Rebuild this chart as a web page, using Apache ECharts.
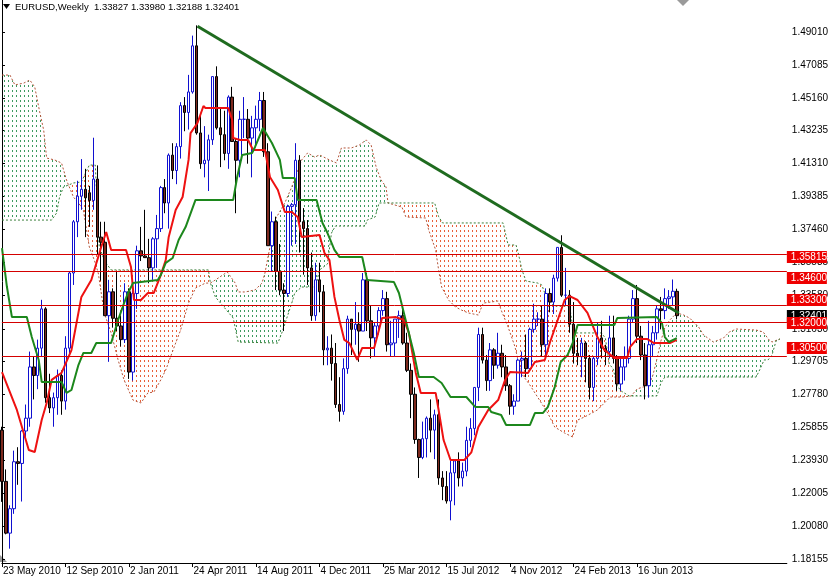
<!DOCTYPE html>
<html><head><meta charset="utf-8">
<script src="https://cdn.jsdelivr.net/npm/echarts@6/dist/echarts.min.js"></script>
<style>html,body{margin:0;padding:0;background:#fff;overflow:hidden;}#c{width:831px;height:580px;}</style>
</head><body><div id="c"></div>
<script>
// ---- tick labels ----
const dateLabels = ['23 May 2010','12 Sep 2010','2 Jan 2011','24 Apr 2011','14 Aug 2011','4 Dec 2011','25 Mar 2012','15 Jul 2012','4 Nov 2012','24 Feb 2013','16 Jun 2013'];
const dateLabelWeeks = [0,16,32,48,64,80,96,112,128,144,160];
const priceTicks = [1.49010,1.47085,1.45160,1.43235,1.41310,1.39385,1.37460,1.35535,1.33580,1.31630,1.29705,1.27780,1.25855,1.23930,1.22005,1.20080,1.18155];
const title = 'EURUSD,Weekly  1.33827 1.33980 1.32188 1.32401';

// ---- weekly candles [open, high, low, close], week 0 = 23 May 2010 ----
const weeklyOHLC = [
[1.2570,1.2590,1.2150,1.2270],[1.2270,1.2340,1.1960,1.1967],[1.1967,1.2130,1.1876,1.2110],[1.2110,1.2450,1.2080,1.2385],
[1.2385,1.2470,1.2250,1.2375],[1.2375,1.2570,1.2152,1.2565],[1.2565,1.2720,1.2510,1.2640],[1.2640,1.3030,1.2590,1.2940],
[1.2940,1.3000,1.2750,1.2890],[1.2890,1.3100,1.2810,1.3050],[1.3050,1.3333,1.3000,1.3280],[1.3280,1.3290,1.2730,1.2760],
[1.2760,1.2900,1.2670,1.2700],[1.2700,1.2790,1.2590,1.2760],[1.2760,1.2925,1.2660,1.2890],[1.2890,1.2920,1.2660,1.2740],
[1.2740,1.3120,1.2690,1.3050],[1.3050,1.3500,1.3000,1.3490],[1.3490,1.3800,1.3420,1.3790],[1.3790,1.4030,1.3700,1.3940],
[1.3940,1.4157,1.3860,1.3980],[1.3980,1.4100,1.3700,1.3930],[1.3960,1.4000,1.3760,1.3915],[1.3915,1.4282,1.3860,1.4040],
[1.4040,1.4120,1.3600,1.3700],[1.3700,1.3790,1.3445,1.3670],[1.3670,1.3790,1.3240,1.3240],[1.3240,1.3450,1.2970,1.3380],
[1.3380,1.3400,1.3170,1.3225],[1.3225,1.3500,1.3150,1.3180],[1.3180,1.3240,1.3060,1.3100],[1.3100,1.3430,1.3080,1.3380],
[1.3380,1.3400,1.2870,1.2910],[1.2910,1.3420,1.2860,1.3370],[1.3370,1.3650,1.3280,1.3620],[1.3620,1.3760,1.3560,1.3590],
[1.3590,1.3860,1.3580,1.3580],[1.3580,1.3690,1.3430,1.3520],[1.3520,1.3700,1.3450,1.3690],[1.3690,1.3830,1.3520,1.3750],
[1.3750,1.4000,1.3730,1.3990],[1.3990,1.4040,1.3840,1.3900],[1.3900,1.4190,1.3750,1.4180],[1.4180,1.4250,1.4040,1.4090],
[1.4090,1.4250,1.4010,1.4230],[1.4230,1.4490,1.4160,1.4470],[1.4470,1.4520,1.4320,1.4430],[1.4430,1.4650,1.4330,1.4550],
[1.4550,1.4880,1.4540,1.4820],[1.4820,1.4940,1.4300,1.4310],[1.4310,1.4420,1.4100,1.4130],[1.4130,1.4350,1.4050,1.4150],
[1.4150,1.4300,1.3970,1.4270],[1.4270,1.4640,1.4240,1.4640],[1.4640,1.4700,1.4330,1.4340],[1.4340,1.4450,1.4110,1.4300],
[1.4300,1.4440,1.4150,1.4190],[1.4190,1.4530,1.4100,1.4520],[1.4520,1.4580,1.4260,1.4260],[1.4260,1.4280,1.3840,1.4150],
[1.4150,1.4440,1.4050,1.4390],[1.4390,1.4520,1.4280,1.4390],[1.4390,1.4450,1.4130,1.4280],[1.4280,1.4410,1.4050,1.4340],
[1.4340,1.4470,1.4230,1.4390],[1.4390,1.4550,1.4320,1.4500],[1.4500,1.4550,1.4170,1.4200],[1.4200,1.4250,1.3650,1.3650],
[1.3650,1.3850,1.3500,1.3790],[1.3790,1.3820,1.3390,1.3500],[1.3500,1.3660,1.3360,1.3390],[1.3390,1.3430,1.3150,1.3370],
[1.3370,1.3890,1.3350,1.3880],[1.3880,1.3900,1.3650,1.3890],[1.3890,1.4250,1.3660,1.4150],[1.4150,1.4180,1.3610,1.3790],
[1.3790,1.3870,1.3480,1.3750],[1.3750,1.3800,1.3420,1.3520],[1.3520,1.3610,1.3210,1.3240],[1.3240,1.3550,1.3210,1.3450],
[1.3450,1.3550,1.3260,1.3380],[1.3380,1.3420,1.2950,1.3040],[1.3040,1.3120,1.2950,1.3050],[1.3050,1.3130,1.2860,1.2960],
[1.2960,1.3080,1.2700,1.2720],[1.2720,1.2880,1.2620,1.2680],[1.2680,1.2990,1.2660,1.2930],[1.2930,1.3240,1.2900,1.3220],
[1.3220,1.3220,1.3010,1.3160],[1.3160,1.3320,1.3070,1.3190],[1.3190,1.3260,1.2970,1.3150],[1.3150,1.3490,1.3150,1.3450],
[1.3450,1.3490,1.3150,1.3210],[1.3210,1.3300,1.2990,1.3110],[1.3110,1.3200,1.3000,1.3180],[1.3180,1.3290,1.3130,1.3270],
[1.3270,1.3390,1.3240,1.3340],[1.3340,1.3380,1.3030,1.3070],[1.3070,1.3210,1.3000,1.3080],[1.3080,1.3220,1.3000,1.3220],
[1.3220,1.3270,1.3110,1.3240],[1.3240,1.3280,1.3070,1.3080],[1.3080,1.3140,1.2910,1.2920],[1.2920,1.2960,1.2640,1.2780],
[1.2780,1.2820,1.2490,1.2515],[1.2515,1.2520,1.2290,1.2410],[1.2410,1.2620,1.2400,1.2520],[1.2520,1.2650,1.2410,1.2640],
[1.2640,1.2750,1.2440,1.2570],[1.2570,1.2690,1.2400,1.2660],[1.2660,1.2750,1.2250,1.2290],[1.2290,1.2330,1.2160,1.2240],
[1.2240,1.2330,1.2140,1.2155],[1.2155,1.2390,1.2042,1.2320],[1.2320,1.2400,1.2130,1.2390],[1.2390,1.2440,1.2240,1.2290],
[1.2290,1.2380,1.2240,1.2330],[1.2330,1.2590,1.2300,1.2510],[1.2510,1.2640,1.2470,1.2580],[1.2580,1.2820,1.2540,1.2820],
[1.2820,1.3170,1.2740,1.3130],[1.3130,1.3170,1.2960,1.2980],[1.2980,1.3010,1.2800,1.2860],[1.2860,1.3080,1.2800,1.3040],
[1.3040,1.3050,1.2870,1.2950],[1.2950,1.3140,1.2930,1.3020],[1.3020,1.3070,1.2880,1.2940],[1.2940,1.3010,1.2800,1.2830],
[1.2830,1.2840,1.2660,1.2710],[1.2710,1.2780,1.2660,1.2740],[1.2740,1.2990,1.2740,1.2980],[1.2980,1.3030,1.2880,1.2990],
[1.2990,1.3130,1.2880,1.2930],[1.2930,1.3170,1.2920,1.3160],[1.3160,1.3310,1.3140,1.3220],[1.3220,1.3260,1.3180,1.3220],
[1.3220,1.3300,1.3000,1.3070],[1.3070,1.3400,1.3000,1.3370],[1.3370,1.3400,1.3260,1.3320],[1.3320,1.3480,1.3250,1.3460],
[1.3460,1.3640,1.3440,1.3640],[1.3640,1.3711,1.3350,1.3360],[1.3360,1.3520,1.3300,1.3360],[1.3360,1.3390,1.3140,1.3190],
[1.3190,1.3320,1.2960,1.3020],[1.3020,1.3110,1.2950,1.3000],[1.3000,1.3110,1.2880,1.3080],[1.3080,1.3090,1.2850,1.2990],
[1.2990,1.3010,1.2750,1.2820],[1.2820,1.3000,1.2740,1.2990],[1.2990,1.3200,1.2950,1.3110],[1.3110,1.3210,1.2990,1.3050],
[1.3050,1.3070,1.2950,1.3030],[1.3030,1.3240,1.2990,1.3110],[1.3110,1.3240,1.2960,1.2990],[1.2990,1.3010,1.2800,1.2840],
[1.2840,1.2990,1.2800,1.2940],[1.2940,1.3060,1.2860,1.2990],[1.2990,1.3240,1.2960,1.3220],[1.3220,1.3390,1.3200,1.3340],
[1.3340,1.3420,1.3080,1.3120],[1.3120,1.3180,1.2980,1.3010],[1.3010,1.3080,1.2750,1.2830],[1.2830,1.3210,1.2760,1.3070],
[1.3070,1.3180,1.3000,1.3140],[1.3140,1.3300,1.3100,1.3280],[1.3280,1.3350,1.3160,1.3270],[1.3270,1.3400,1.3220,1.3340],
[1.3340,1.3390,1.3280,1.3350],[1.3350,1.3452,1.3300,1.3383],[1.33827,1.33980,1.32188,1.32401]
];

// ---- Ichimoku lines: [week, price] ----
const tenkan = [[0,1.2910],[3.75,1.2688],[6.75,1.2454],[8.25,1.2442],[10,1.2629],[11.25,1.2729],[12.5,1.2864],[15,1.2905],[17.5,1.3039],[20,1.3350],[22.5,1.3449],[25,1.3642],[26.25,1.3730],[27.5,1.3625],[31.25,1.3625],[32.5,1.3525],[33.25,1.3332],[35,1.3332],[36.75,1.3373],[38.25,1.3373],[40,1.3478],[41.25,1.3566],[42,1.3701],[43.75,1.3859],[45.5,1.3935],[47,1.4152],[47.5,1.4309],[49.25,1.4368],[50.75,1.4468],[51.25,1.4456],[57,1.4456],[58,1.4386],[58.25,1.4280],[60,1.4269],[62,1.4269],[63.25,1.4210],[66.25,1.4210],[67.5,1.4052],[69.5,1.3976],[71.25,1.3847],[73,1.3847],[74.5,1.3818],[75.5,1.3701],[80,1.3713],[81.25,1.3607],[82.5,1.3566],[83.75,1.3350],[85,1.3215],[86.25,1.3098],[87.5,1.3080],[89.5,1.2981],[90.75,1.3051],[93.75,1.3051],[94.5,1.3115],[95.75,1.3226],[99.25,1.3232],[101.25,1.3215],[102.5,1.3139],[104.25,1.2905],[105.5,1.2788],[109.25,1.2788],[110,1.2688],[111.25,1.2512],[113,1.2395],[116.5,1.2395],[118.25,1.2440],[120,1.2588],[122.5,1.2688],[125,1.2746],[126.75,1.2864],[128,1.2910],[132.5,1.2905],[134.25,1.2969],[136.75,1.2981],[138,1.3080],[140,1.3215],[141.75,1.3332],[143,1.3355],[145,1.3332],[147.5,1.3256],[150,1.3115],[151.75,1.3039],[154.25,1.2993],[157.5,1.2993],[158.25,1.3057],[160,1.3104],[162.5,1.3104],[164.25,1.3080],[168.25,1.3080],[170,1.3098]];
const kijun = [[0,1.3636],[1.25,1.3408],[2.5,1.3232],[6.25,1.3232],[7.5,1.3115],[9.25,1.2981],[10,1.2852],[15,1.2852],[16.25,1.2788],[17.5,1.2805],[19.25,1.2951],[20.5,1.3022],[22.5,1.3022],[23.75,1.3080],[27.5,1.3080],[29.25,1.3215],[30.75,1.3314],[31.75,1.3373],[33,1.3431],[35,1.3437],[39.25,1.3449],[40,1.3478],[41.25,1.3549],[43,1.3578],[44.5,1.3683],[46.25,1.3759],[48.75,1.3918],[58.25,1.3918],[59.25,1.4052],[60.5,1.4181],[63,1.4193],[63.75,1.4228],[65.75,1.4339],[68,1.4251],[70,1.4152],[70.75,1.4046],[73.75,1.4046],[74.5,1.3918],[79.25,1.3918],[80.75,1.3783],[82,1.3724],[83.75,1.3625],[85,1.3584],[90.75,1.3584],[92,1.3449],[98.75,1.3437],[100,1.3373],[101.25,1.3256],[102.5,1.3139],[103.75,1.3022],[105,1.2881],[108.75,1.2881],[110.75,1.2846],[113,1.2764],[117,1.2764],[119.25,1.2705],[122.5,1.2705],[123.25,1.2676],[125.75,1.2659],[127,1.2600],[133,1.2600],[134.25,1.2670],[136.25,1.2670],[137.5,1.2705],[139.25,1.2822],[140.75,1.2969],[142.5,1.3010],[143.75,1.3080],[145,1.3185],[154.25,1.3185],[155,1.3226],[165,1.3232],[166.25,1.3197],[167,1.3115],[168,1.3086],[170,1.3109]];
const spanA = [[0,1.4649],[2,1.4649],[3.25,1.4591],[5.5,1.4602],[7,1.4620],[8.25,1.4579],[9.5,1.4433],[10.5,1.4327],[11.25,1.4163],[13.25,1.4152],[15,1.4134],[16.25,1.4035],[16.75,1.4005],[18,1.3935],[19.25,1.3900],[20.5,1.3859],[22,1.3642],[23.25,1.3566],[24.25,1.3490],[25.75,1.3256],[27.5,1.3139],[29.25,1.2981],[30.75,1.2864],[33,1.2746],[35,1.2729],[36.75,1.2788],[38.25,1.2793],[40,1.2864],[41.25,1.2922],[43.75,1.3080],[45,1.3156],[47,1.3314],[48.75,1.3402],[51.25,1.3431],[52.5,1.3431],[53.75,1.3449],[56.75,1.3496],[58.75,1.3431],[59.5,1.3379],[61.25,1.3379],[63.75,1.3391],[65.5,1.3431],[66.25,1.3490],[67.5,1.3642],[68.75,1.3800],[71.25,1.3900],[73,1.3994],[75.5,1.4152],[77,1.4193],[78.75,1.4169],[80,1.4181],[82.5,1.4152],[84.25,1.4134],[85.5,1.4222],[88,1.4222],[90,1.4239],[91.75,1.4269],[93,1.4239],[94.25,1.4111],[95.5,1.4035],[96.75,1.3994],[97.25,1.3900],[100.75,1.3876],[101.75,1.3818],[106.75,1.3812],[107.5,1.3742],[109.25,1.3625],[110,1.3508],[110.75,1.3408],[112.5,1.3332],[114.25,1.3291],[115.75,1.3273],[117.5,1.3256],[120,1.3244],[121.25,1.3314],[125,1.3326],[125.75,1.3273],[127.5,1.3174],[129.25,1.3057],[130.75,1.2905],[133,1.2834],[137.5,1.2670],[139.25,1.2588],[141.75,1.2553],[143.75,1.2530],[145,1.2629],[146.75,1.2647],[150,1.2688],[151.75,1.2729],[153.25,1.2764],[156.25,1.2764],[158.5,1.2770],[160,1.2811],[163,1.2834],[164,1.2893],[165,1.2987],[166,1.3092],[167,1.3171],[168.25,1.3215],[170,1.3256],[171.75,1.3244],[173.25,1.3226],[175.5,1.3174],[176.75,1.3127],[179.25,1.3086],[181.75,1.3109],[183.25,1.3145],[185,1.3162],[190,1.3156],[191.75,1.3145],[193.25,1.3098],[194,1.3086],[196,1.3104]];
const spanB = [[0,1.3800],[12.5,1.3800],[13.75,1.3841],[14.5,1.3935],[15.5,1.3994],[16.75,1.4005],[18,1.4017],[20,1.4023],[22,1.4122],[23.5,1.4122],[24.5,1.3642],[26,1.3554],[27.5,1.3508],[52,1.3508],[52.5,1.3431],[53.75,1.3350],[58.25,1.3226],[59.5,1.3086],[69.5,1.3080],[70.5,1.3139],[71.75,1.3226],[73,1.3314],[73.75,1.3373],[75.5,1.3408],[79,1.3408],[80,1.3508],[82,1.3543],[83,1.3724],[84,1.3765],[91.5,1.3765],[92,1.3800],[94,1.3818],[95,1.3900],[97.25,1.3900],[109,1.3900],[110,1.3820],[111,1.3783],[126.25,1.3783],[127.5,1.3654],[129.5,1.3654],[130,1.3613],[131,1.3508],[132,1.3443],[135,1.3431],[136,1.3420],[137,1.3355],[139,1.3297],[143,1.3297],[144,1.3139],[151,1.3139],[152,1.3109],[153,1.2957],[154,1.2928],[155,1.2828],[156,1.2799],[158,1.2770],[158.5,1.2770],[165,1.2770],[166,1.2846],[167,1.2881],[190,1.2881],[191,1.2928],[192,1.2981],[193,1.2981],[194,1.3010],[195,1.3092],[196,1.3104]];
// cloud pieces between crossings: [from week, to week, A on top?]
const cloudPieces = [[0,16.75,1],[16.75,52.5,0],[52.5,97.25,1],[97.25,158.5,0],[158.5,196,1]];

// ---- drawn objects ----
const levels = [1.35815,1.34600,1.33300,1.32000,1.30500];
const lastPrice = 1.32401;
const trendLine = [[49.25,1.4935],[170.5,1.3256]];

const FONT = "'Liberation Sans',Arial,sans-serif";

function hatch(color){
  const c = document.createElement('canvas'); c.width = 4; c.height = 5;
  const g = c.getContext('2d'); g.fillStyle = color; g.fillRect(0,0,1,2);
  return {image: c, repeat: 'repeat'};
}
const hatchUp = hatch('#3d9a60');
const hatchDown = hatch('#e8603a');

const candles = weeklyOHLC.map((d,i)=>[i,d[0],d[3],d[2],d[1]]);

const chart = echarts.init(document.getElementById('c'), null, {renderer:'canvas'});

const lineMarks = [{yAxis:lastPrice, lineStyle:{color:'#8795a3',width:1,type:'solid'}}]
  .concat(levels.map(v=>({yAxis:v, lineStyle:{color:'#d40000',width:1,type:'solid'}})));

chart.setOption({
  animation:false,
  grid:{left:0,right:40,top:0,bottom:17,containLabel:false},
  xAxis:{type:'value',min:-0.02,max:197.73,
    axisLine:{show:true,lineStyle:{color:'#000',width:1}},
    axisTick:{show:true,customValues:dateLabelWeeks,length:4,lineStyle:{color:'#000'}},
    axisLabel:{customValues:dateLabelWeeks,showMinLabel:true,formatter:v=>dateLabels[dateLabelWeeks.indexOf(v)]||'',
      align:'left',margin:3,padding:[0,0,0,1],fontSize:10,color:'#000',fontFamily:FONT},
    splitLine:{show:false}},
  yAxis:{type:'value',position:'right',min:1.17921,max:1.50884,scale:true,
    axisLine:{show:true,lineStyle:{color:'#000',width:1}},
    axisTick:{show:true,customValues:priceTicks,length:3,lineStyle:{color:'#000'}},
    axisLabel:{customValues:priceTicks,formatter:v=>v.toFixed(5),margin:5,fontSize:10,color:'#000',fontFamily:FONT},
    splitLine:{show:false}},
  series:[
    {type:'custom',name:'cloud',z:1,silent:true,
      data:cloudPieces.map(p=>[p[0],p[1],1.3,p[2]]),
      encode:{x:[0,1],y:2},
      renderItem:function(params,api){
        const p = cloudPieces[params.dataIndex];
        const pts = [];
        spanA.forEach(q=>{ if(q[0]>=p[0] && q[0]<=p[1]) pts.push(api.coord(q)); });
        for(let k=spanB.length-1;k>=0;k--){ const q=spanB[k]; if(q[0]>=p[0] && q[0]<=p[1]) pts.push(api.coord(q)); }
        return {type:'polygon',shape:{points:pts},style:{fill:p[2]?hatchUp:hatchDown,stroke:null}};
      }},
    {type:'line',name:'Senkou A',z:2,data:spanA,showSymbol:false,silent:true,
      lineStyle:{color:'#b4553a',width:1,type:[2,2]}},
    {type:'line',name:'Senkou B',z:2,data:spanB,showSymbol:false,silent:true,
      lineStyle:{color:'#3a7f3a',width:1,type:[2,2]}},
    {type:'candlestick',name:'EURUSD',z:3,data:candles,encode:{x:0,y:[1,2,3,4]},barWidth:3,
      itemStyle:{color:'#ffffff',color0:'#7d2a1e',borderColor:'#1010d0',borderColor0:'#000000',borderWidth:1}},
    {type:'line',name:'Tenkan',z:4,data:tenkan,showSymbol:false,silent:true,
      lineStyle:{color:'#ee1111',width:2}},
    {type:'line',name:'Kijun',z:4,data:kijun,showSymbol:false,silent:true,
      lineStyle:{color:'#1c871c',width:2}},
    {type:'line',name:'trend',z:5,data:trendLine,showSymbol:false,silent:true,
      lineStyle:{color:'#1f6b1f',width:3},
      markLine:{silent:true,symbol:['none','none'],z:6,label:{show:false},data:lineMarks}}
  ]
});

// price boxes on the right axis, placed through the y axis scale
const gx = chart.convertToPixel({xAxisIndex:0}, 197.73);
function box(v,bg,z){
  const y = chart.convertToPixel({yAxisIndex:0}, v);
  return {type:'group',x:gx,y:Math.round(y)-6,zlevel:1,children:[
    {type:'rect',zlevel:1,z:z,shape:{x:0,y:0,width:40,height:12},style:{fill:bg}},
    {type:'text',zlevel:1,z:z+1,x:4,y:1.5,style:{text:v.toFixed(5),font:'10px '+FONT,fill:'#fff'}}
  ]};
}
const graphics = [
  {type:'polygon',shape:{points:[[3,4],[10,4],[6.5,9]]},style:{fill:'#000'}},
  {type:'text',left:15,top:2,style:{text:title,font:'9.5px '+FONT,fill:'#000'}},
  {type:'polygon',shape:{points:[[677,0],[689,0],[683,6]]},style:{fill:'#9a9a9a'}},
  {type:'polygon',shape:{points:[[0,555],[7,562],[0,562]]},style:{fill:'#9a9a9a'}},
  box(lastPrice,'#000',10)
].concat(levels.map((v,k)=>box(v,'#ee0000',20+2*k)));
chart.setOption({graphic:graphics});
</script></body></html>
